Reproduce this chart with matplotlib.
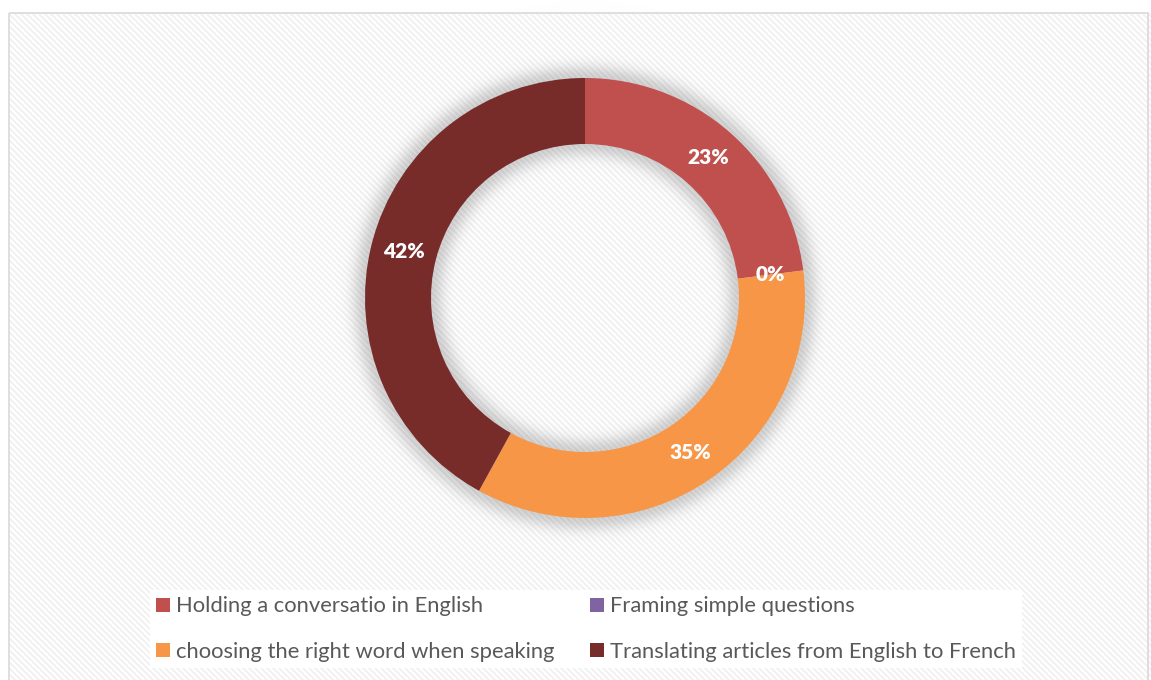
import numpy as np
import matplotlib.pyplot as plt
from matplotlib.patches import Rectangle

labels = ["Holding a conversatio in English", "Framing simple questions",
          "choosing the right word when speaking", "Translating articles from English to French"]
values = [23, 0, 35, 42]
colors = ["#C0504D", "#8064A2", "#F79646", "#772C2A"]

W, H = 1151, 680
cx, cy = 585, 298          # donut centre in pixels
r_out, r_in = 220, 154

plt.rcParams['font.family'] = ['Lato', 'DejaVu Sans']

fig = plt.figure(figsize=(W / 100, H / 100), dpi=100)

# background: striped chart area + soft shadow under the ring
ax_bg = fig.add_axes([0, 0, 1, 1])
ax_bg.set_xlim(0, W)
ax_bg.set_ylim(H, 0)
ax_bg.axis('off')

yy, xx = np.mgrid[0:H, 0:W]
img = np.ones((H, W))
inside = (xx >= 9) & (yy >= 13)
stripes = ((xx - yy) % 6) < 3
img[inside & stripes] = 0.95

r = np.hypot(xx + 0.5 - cx, yy + 0.5 - cy)
d = np.where(r > r_out, r - r_out, np.where(r < r_in, r_in - r, 0.0))
shade = 0.17 * np.exp(-(d / 13.0) ** 2)
img = img * (1 - shade)
ax_bg.imshow(np.dstack([img] * 3), extent=(0, W, H, 0), interpolation='nearest', zorder=0)
ax_bg.add_patch(Rectangle((9, 13), W - 12, H, fill=False, edgecolor='#d9d9d9', lw=1.2, zorder=1))

# donut
ax = fig.add_axes([(cx - r_out) / W, (H - cy - r_out) / H, 2 * r_out / W, 2 * r_out / H])
ax.patch.set_alpha(0)
wedges, _, autotexts = ax.pie(values, colors=colors, startangle=90, counterclock=False,
                              radius=1, autopct='%.0f%%', pctdistance=0.85,
                              wedgeprops=dict(width=1 - r_in / r_out, linewidth=0),
                              textprops=dict(color='white', fontsize=15, fontweight='heavy'))
ax.set_xlim(-1, 1)
ax.set_ylim(-1, 1)

# legend box
order = [0, 2, 1, 3]
leg = fig.legend([wedges[i] for i in order], [labels[i] for i in order], ncol=2,
                 loc='center', bbox_to_anchor=(586 / W, 1 - 629 / H),
                 frameon=True, fancybox=False, facecolor='white', edgecolor='none',
                 fontsize=15.8, labelcolor='#595959', handlelength=0.62, handleheight=0.62,
                 handletextpad=0.28, columnspacing=1.62, labelspacing=1.15,
                 borderpad=0.3)
leg.get_frame().set_alpha(1)

fig.savefig('out.png', dpi=100)
